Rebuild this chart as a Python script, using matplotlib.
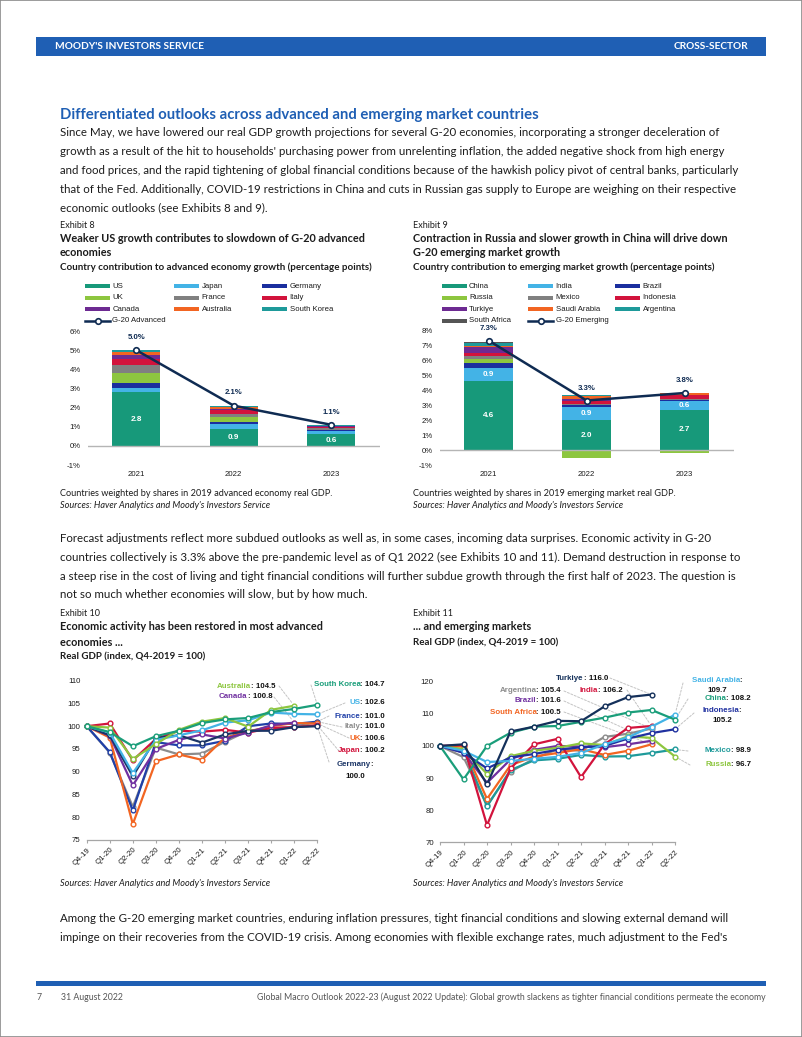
import matplotlib
matplotlib.use('Agg')
import matplotlib.pyplot as plt
from matplotlib.patches import Rectangle
from matplotlib.lines import Line2D
import numpy as np

# ---------------- data ----------------
years = ['2021', '2022', '2023']

adv_names = ['US', 'Japan', 'Germany', 'UK', 'France', 'Italy', 'Canada', 'Australia', 'South Korea']
adv_us = [2.8, 0.9, 0.6]
adv_japan = [0.22, 0.25, 0.2]
adv_germany = [0.26, 0.1, 0.03]
adv_uk = [0.5, 0.25, 0.0]
adv_france = [0.42, 0.15, 0.08]
adv_italy = [0.35, 0.2, 0.1]
adv_canada = [0.2, 0.1, 0.02]
adv_australia = [0.15, 0.1, 0.03]
adv_korea = [0.1, 0.05, 0.05]
adv_g20 = [5.0, 2.1, 1.1]

em_names = ['China', 'India', 'Brazil', 'Russia', 'Mexico', 'Indonesia', 'Turkiye',
            'Saudi Arabia', 'Argentina', 'South Africa']
em_china = [4.6, 2.0, 2.7]
em_india = [0.9, 0.9, 0.6]
em_brazil = [0.3, 0.1, 0.05]
em_russia = [0.3, -0.5, -0.2]
em_mexico = [0.2, 0.1, 0.05]
em_indonesia = [0.15, 0.2, 0.25]
em_turkiye = [0.4, 0.1, 0.03]
em_saudi = [0.1, 0.2, 0.1]
em_argentina = [0.2, 0.05, 0.02]
em_safrica = [0.05, 0.05, 0.0]
em_g20 = [7.3, 3.3, 3.8]

quarters = ['Q4-19', 'Q1-20', 'Q2-20', 'Q3-20', 'Q4-20', 'Q1-21', 'Q2-21',
            'Q3-21', 'Q4-21', 'Q1-22', 'Q2-22']

gdp_italy = [100, 94.2, 82.3, 95.3, 93.8, 94.0, 96.6, 99.0, 99.6, 99.8, 101.0]
gdp_france = [100, 94.3, 81.5, 96.5, 95.8, 95.8, 96.8, 100.0, 100.6, 100.5, 101.0]
gdp_uk = [100, 97.5, 78.5, 92.3, 93.8, 92.6, 97.5, 98.8, 100.0, 100.7, 100.6]
gdp_japan = [100, 100.6, 92.5, 97.2, 99.0, 98.8, 99.2, 98.6, 99.6, 99.8, 100.2]
gdp_canada = [100, 97.9, 87.0, 95.0, 97.0, 98.2, 97.3, 98.6, 100.2, 100.8]
gdp_germany = [100, 98.0, 89.0, 97.4, 98.0, 96.4, 98.2, 99.0, 99.0, 99.8, 100.0]
gdp_us = [100, 98.6, 89.7, 97.0, 98.0, 99.1, 100.8, 101.3, 103.0, 102.7, 102.6]
gdp_australia = [100, 99.7, 92.8, 96.1, 99.2, 101.0, 101.8, 99.9, 103.6, 104.5]
gdp_korea = [100, 98.7, 95.6, 97.8, 99.0, 100.7, 101.5, 101.8, 103.1, 103.8, 104.7]

gdp_argentina = [100, 96.5, 81.5, 92.0, 96.0, 99.0, 98.5, 102.8, 103.8, 105.4]
gdp_mexico = [100, 98.8, 81.2, 92.5, 95.5, 96.0, 97.2, 96.7, 96.8, 97.8, 98.9]
gdp_safrica = [100, 99.8, 83.5, 94.0, 96.7, 97.8, 99.0, 97.2, 98.5, 100.5]
gdp_brazil = [100, 97.9, 88.5, 95.8, 98.8, 100.0, 99.8, 99.6, 100.5, 101.6]
gdp_india = [100, 100.3, 75.3, 93.0, 100.5, 102.2, 90.3, 100.5, 105.6, 106.2]
gdp_russia = [100, 99.0, 91.3, 96.8, 98.5, 99.4, 100.8, 100.3, 103.0, 102.5, 96.7]
gdp_indonesia = [100, 97.9, 93.0, 96.4, 97.5, 98.8, 99.6, 100.0, 102.3, 104.0, 105.2]
gdp_saudi = [100, 98.5, 95.0, 95.3, 96.0, 96.6, 97.8, 100.5, 102.7, 106.0, 109.7]
gdp_china = [100, 89.6, 100.0, 104.1, 106.0, 106.2, 107.5, 108.8, 110.4, 111.2, 108.2]
gdp_turkiye = [100, 100.5, 88.0, 104.5, 106.0, 107.8, 107.7, 112.3, 115.2, 116.0]

# ---------------- style ----------------
TEAL_G = '#17997a'
LBLUE = '#43b3e6'
DBLUE = '#1a2e9e'
LGREEN = '#8dc63f'
GRAY = '#808080'
CRIMSON = '#d2133c'
PURPLE = '#6d2a92'
ORANGE = '#f26522'
TEAL = '#1e9a9a'
DGRAY = '#555555'
NAVY = '#0f2b52'
RBLUE = '#2040a8'
HBLUE = '#1f5fb4'
TXT = '#1c1c1c'

plt.rcParams['font.family'] = ['Liberation Sans', 'DejaVu Sans']
CS = 5.6  # chart font size
BODY = ['Lato', 'DejaVu Sans']

W, H = 802, 1037
fig = plt.figure(figsize=(W / 100, H / 100), dpi=100)
renderer = fig.canvas.get_renderer()


def fx(x):
    return x / W


def fy(y):
    return 1 - y / H


def ptext(x, y, s, size, ha='left', va='center', **kw):
    return fig.text(fx(x), fy(y), s, fontsize=size, ha=ha, va=va, **kw)


def wid(t):
    return t.get_window_extent(renderer).width


def fit_size(s, target, **kw):
    t = fig.text(0, 0, s, fontsize=10, **kw)
    w = wid(t)
    t.remove()
    return 10 * target / w


# page border
fig.add_artist(Rectangle((0, 0), 1, 1, transform=fig.transFigure, fill=False,
                         ec='#8a8a8a', lw=1.2))

# header
fig.add_artist(Rectangle((fx(36), fy(56)), (766 - 36) / W, 19 / H, transform=fig.transFigure,
                         color=HBLUE, lw=0))
s = fit_size("MOODY'S INVESTORS SERVICE", 149, family=BODY, weight='bold')
ptext(55, 46.5, "MOODY'S INVESTORS SERVICE", s, color='white', family=BODY, weight='bold')
ptext(748, 46.5, 'CROSS-SECTOR', s, ha='right', color='white', family=BODY, weight='bold')

# footer
fig.add_artist(Rectangle((fx(36), fy(986)), (766 - 36) / W, 5 / H, transform=fig.transFigure,
                         color=HBLUE, lw=0))
foot = 'Global Macro Outlook 2022-23 (August 2022 Update): Global growth slackens as tighter financial conditions permeate the economy'
fs = fit_size(foot, 510, family=BODY)
ptext(766, 997, foot, fs, ha='right', color='#555555', family=BODY)
ptext(37, 997, '7', fs, color='#555555', family=BODY)
ptext(61, 997, '31 August 2022', fs, color='#555555', family=BODY)

# heading + paragraph 1
hs = fit_size('Differentiated outlooks across advanced and emerging market countries', 479,
              family=BODY, weight='bold')
ptext(60, 115, 'Differentiated outlooks across advanced and emerging market countries', hs,
      color=HBLUE, family=BODY, weight='bold')
para1 = [
    'Since May, we have lowered our real GDP growth projections for several G-20 economies, incorporating a stronger deceleration of',
    "growth as a result of the hit to households' purchasing power from unrelenting inflation, the added negative shock from high energy",
    'and food prices, and the rapid tightening of global financial conditions because of the hawkish policy pivot of central banks, particularly',
    'that of the Fed. Additionally, COVID-19 restrictions in China and cuts in Russian gas supply to Europe are weighing on their respective',
    'economic outlooks (see Exhibits 8 and 9).',
]
bs = fit_size(para1[2], 682, family=BODY)
for i, line in enumerate(para1):
    ptext(60, 133 + i * 18.8, line, bs, color=TXT, family=BODY)

para2 = [
    'Forecast adjustments reflect more subdued outlooks as well as, in some cases, incoming data surprises. Economic activity in G-20',
    'countries collectively is 3.3% above the pre-pandemic level as of Q1 2022 (see Exhibits 10 and 11). Demand destruction in response to',
    'a steep rise in the cost of living and tight financial conditions will further subdue growth through the first half of 2023. The question is',
    'not so much whether economies will slow, but by how much.',
]
for i, line in enumerate(para2):
    ptext(60, 539 + i * 18.6, line, bs, color=TXT, family=BODY)

para3 = [
    'Among the G-20 emerging market countries, enduring inflation pressures, tight financial conditions and slowing external demand will',
    "impinge on their recoveries from the COVID-19 crisis. Among economies with flexible exchange rates, much adjustment to the Fed's",
]
for i, line in enumerate(para3):
    ptext(60, 919 + i * 18.8, line, bs, color=TXT, family=BODY)

# exhibit titles
es = fit_size('Exhibit 8', 35, family=BODY)
ts = fit_size('Weaker US growth contributes to slowdown of G-20 advanced', 306, family=BODY, weight='bold')
ss = fit_size('Country contribution to advanced economy growth (percentage points)', 310, family=BODY, weight='bold')
ns = fit_size('Countries weighted by shares in 2019 advanced economy real GDP.', 272, family=BODY)


def exhibit(x, y0, num, titles, sub, ysub):
    ptext(x, y0, 'Exhibit %d' % num, es, color=TXT, family=BODY)
    for i, tl in enumerate(titles):
        ptext(x, y0 + 13 + i * 15, tl, ts, color=TXT, family=BODY, weight='bold')
    ptext(x, ysub, sub, ss, color=TXT, family=BODY, weight='bold')


exhibit(60, 225, 8, ['Weaker US growth contributes to slowdown of G-20 advanced', 'economies'],
        'Country contribution to advanced economy growth (percentage points)', 267)
exhibit(413, 225, 9, ['Contraction in Russia and slower growth in China will drive down',
                      'G-20 emerging market growth'],
        'Country contribution to emerging market growth (percentage points)', 267)
exhibit(60, 614, 10, ['Economic activity has been restored in most advanced', 'economies ...'],
        'Real GDP (index, Q4-2019 = 100)', 657)
exhibit(413, 614, 11, ['... and emerging markets'], 'Real GDP (index, Q4-2019 = 100)', 643)

src = "Sources: Haver Analytics and Moody's Investors Service"
ptext(60, 493, 'Countries weighted by shares in 2019 advanced economy real GDP.', ns, color=TXT, family=BODY)
ptext(60, 505, src, ns, color=TXT, family=BODY, style='italic')
ptext(413, 493, 'Countries weighted by shares in 2019 emerging market real GDP.', ns, color=TXT, family=BODY)
ptext(413, 505, src, ns, color=TXT, family=BODY, style='italic')
ptext(60, 883, src, ns, color=TXT, family=BODY, style='italic')
ptext(413, 883, src, ns, color=TXT, family=BODY, style='italic')


# ---------------- legends ----------------
def legend(items, cols_x, rows_y, line_item=None):
    for k, (name, col) in enumerate(items):
        r, c = divmod(k, 3)
        px, py = cols_x[c], rows_y[r]
        fig.add_artist(Rectangle((fx(px), fy(py + 2)), 25 / W, 4 / H,
                                 transform=fig.transFigure, color=col, lw=0))
        ptext(px + 27.5, py, name, CS, color=TXT)
    if line_item is not None:
        name, k = line_item
        r, c = divmod(k, 3)
        px, py = cols_x[c], rows_y[r]
        fig.add_artist(Line2D([fx(px), fx(px + 25)], [fy(py), fy(py)], transform=fig.transFigure,
                              color=NAVY, lw=1.8))
        fig.add_artist(Line2D([fx(px + 12.5)], [fy(py)], transform=fig.transFigure, marker='o',
                              ms=4, mfc='white', mec=NAVY, mew=1.2, color=NAVY))
        ptext(px + 27.5, py, name, CS, color=TXT)


adv_cols = [TEAL_G, LBLUE, DBLUE, LGREEN, GRAY, CRIMSON, PURPLE, ORANGE, TEAL]
em_cols = [TEAL_G, LBLUE, DBLUE, LGREEN, GRAY, CRIMSON, PURPLE, ORANGE, TEAL, DGRAY]
rows = [286, 297.7, 309.3, 321]
legend(list(zip(adv_names, adv_cols)), [85, 174, 262], rows, ('G-20 Advanced', 9))
legend(list(zip(em_names, em_cols)), [441.5, 528, 615], rows, ('G-20 Emerging', 10))


# ---------------- bar charts ----------------
def bar_chart(rect, series, cols, total, ylim, label_series, lab_off):
    ax = fig.add_axes(rect)
    x = np.arange(len(years))
    pos = np.zeros(len(years))
    neg = np.zeros(len(years))
    for vals, col in zip(series, cols):
        v = np.array(vals, dtype=float)
        b = np.where(v >= 0, pos, neg)
        ax.bar(x, v, 0.49, bottom=b, color=col, lw=0, zorder=2)
        pos += np.where(v >= 0, v, 0)
        neg += np.where(v < 0, v, 0)
    cum = np.zeros(len(years))
    for j, vals in enumerate(series):
        v = np.array(vals, dtype=float)
        if j in label_series:
            for i in range(len(years)):
                ax.text(x[i], cum[i] + v[i] / 2, '%.1f' % v[i], ha='center', va='center',
                        color='white', fontsize=CS + 0.3, fontweight='bold', zorder=4)
        cum += np.where(v >= 0, v, 0)
    ax.axhline(0, color='#b5b5b5', lw=1.0, zorder=3)
    ax.plot(x, total, color=NAVY, lw=1.8, marker='o', ms=4, mfc='white', mec=NAVY, mew=1.2, zorder=5)
    for i, v in enumerate(total):
        ax.annotate('%.1f%%' % v, (x[i], v), xytext=(0, lab_off), textcoords='offset points',
                    ha='center', va='center', fontsize=CS, fontweight='bold', color=NAVY)
    ax.set_xlim(-0.5, 2.5)
    ax.set_ylim(*ylim)
    ax.set_yticks(range(ylim[0], ylim[1] + 1))
    ax.set_yticklabels(['%d%%' % t for t in range(ylim[0], ylim[1] + 1)])
    ax.set_xticks(x)
    ax.set_xticklabels(years)
    ax.tick_params(length=0, labelsize=CS, colors=TXT)
    ax.tick_params(axis='y', pad=5)
    ax.tick_params(axis='x', pad=4)
    for sp in ax.spines.values():
        sp.set_visible(False)
    ax.patch.set_alpha(0)
    return ax


adv_series = [adv_us, adv_japan, adv_germany, adv_uk, adv_france, adv_italy, adv_canada,
              adv_australia, adv_korea]
em_series = [em_china, em_india, em_brazil, em_russia, em_mexico, em_indonesia, em_turkiye,
             em_saudi, em_argentina, em_safrica]

bar_chart([fx(87.5), fy(465), (380 - 87.5) / W, (465 - 331) / H], adv_series, adv_cols, adv_g20,
          (-1, 6), [0], 9.2)
bar_chart([fx(439.5), fy(465), (733.5 - 439.5) / W, (465 - 330) / H], em_series, em_cols, em_g20,
          (-1, 8), [0, 1], 8.8)


# ---------------- line charts ----------------
def line_chart(rect, series, ylim, yticks):
    ax = fig.add_axes(rect)
    for vals, col in series:
        ax.plot(range(len(vals)), vals, color=col, lw=1.6, marker='o', ms=3.4, mfc='white',
                mec=col, mew=1.0, zorder=3, clip_on=False)
    ax.set_xlim(0, 10)
    ax.set_ylim(*ylim)
    ax.set_yticks(yticks)
    ax.set_xticks(range(len(quarters)))
    ax.set_xticklabels(quarters, rotation=45, ha='right', va='top', rotation_mode='anchor')
    ax.tick_params(axis='y', length=0, labelsize=CS, colors=TXT, pad=4.5)
    ax.tick_params(axis='x', length=2.5, color='#a6a6a6', width=0.8, labelsize=CS, colors=TXT, pad=2)
    ax.tick_params(axis='x', colors='#a6a6a6', labelcolor=TXT)
    for k, sp in ax.spines.items():
        sp.set_visible(k == 'bottom')
    ax.spines['bottom'].set_color('#a6a6a6')
    ax.spines['bottom'].set_linewidth(0.9)
    ax.patch.set_alpha(0)
    return ax


ax10 = line_chart([fx(86.7), fy(840), (317.3 - 86.7) / W, (840 - 680.7) / H],
                  [(gdp_italy, '#8c8c8c'), (gdp_france, RBLUE), (gdp_uk, ORANGE),
                   (gdp_japan, CRIMSON), (gdp_canada, '#7030a0'), (gdp_germany, '#1b3566'),
                   (gdp_us, LBLUE), (gdp_australia, LGREEN), (gdp_korea, '#1a9e7a')],
                  (75, 110), range(75, 111, 5))
ax11 = line_chart([fx(440), fy(842.3), (675 - 440) / W, (842.3 - 681.7) / H],
                  [(gdp_argentina, '#8c8c8c'), (gdp_mexico, TEAL), (gdp_safrica, ORANGE),
                   (gdp_brazil, '#7030a0'), (gdp_india, CRIMSON), (gdp_russia, LGREEN),
                   (gdp_indonesia, '#2031a0'), (gdp_saudi, LBLUE), (gdp_china, '#1a9e7a'),
                   (gdp_turkiye, '#14305a')],
                  (70, 120), range(70, 121, 10))

LS = 5.7
BK = '#111111'


def label2(x, y, name, val, color, ha='left'):
    kw = dict(fontweight='bold')
    if ha == 'left':
        t1 = ptext(x, y, name, LS, color=color, **kw)
        ptext(x + wid(t1), y, ': ' + val, LS, color=BK, **kw)
    else:
        t2 = ptext(x, y, ': ' + val, LS, ha='right', color=BK, **kw)
        ptext(x - wid(t2), y, name, LS, ha='right', color=color, **kw)


def label_two_line(xc, y, name, val, color):
    t1 = ptext(0, y, name, LS, color=color, fontweight='bold')
    t2 = ptext(0, y, ':', LS, color=BK, fontweight='bold')
    w1, w2 = wid(t1), wid(t2)
    x0 = xc - (w1 + w2) / 2
    t1.set_x(fx(x0))
    t2.set_x(fx(x0 + w1 - 0.6))
    ptext(xc, y + 11, val, LS, ha='center', color=BK, fontweight='bold')


def leader(ax, xi, v, px, py):
    ax.annotate('', xy=(xi, v), xycoords='data', xytext=(px, H - py), textcoords='figure pixels',
                arrowprops=dict(arrowstyle='-', color='#c4c4c4', lw=0.7, linestyle=(0, (2.2, 1.6)),
                                shrinkA=0, shrinkB=2.5),
                annotation_clip=False, zorder=1)


# chart 10 labels
label2(217, 686, 'Australia', '%.1f' % gdp_australia[-1], LGREEN)
leader(ax10, len(gdp_australia) - 1, gdp_australia[-1], 279, 686)
label2(219, 697, 'Canada', '%.1f' % gdp_canada[-1], '#7030a0')
leader(ax10, len(gdp_canada) - 1, gdp_canada[-1], 274, 697)
right10 = [('South Korea', gdp_korea, '#1a9e7a', 685, 311),
           ('US', gdp_us, LBLUE, 703, 345),
           ('France', gdp_france, RBLUE, 716, 329),
           ('Italy', gdp_italy, '#8c8c8c', 727, 342),
           ('UK', gdp_uk, ORANGE, 738, 349),
           ('Japan', gdp_japan, CRIMSON, 751, 339)]
for name, vals, col, yy, lx in right10:
    label2(385, yy, name, '%.1f' % vals[-1], col, ha='right')
    leader(ax10, len(vals) - 1, vals[-1], lx, yy)
label_two_line(355, 765, 'Germany', '%.1f' % gdp_germany[-1], '#1b3566')
leader(ax10, len(gdp_germany) - 1, gdp_germany[-1], 329, 762)

# chart 11 labels
t = ptext(0, 0, 'Turkiye: 116.0', LS, fontweight='bold')
tw = wid(t)
t.remove()
label2(582 - tw / 2, 678, 'Turkiye', '%.1f' % gdp_turkiye[-1], '#14305a')
leader(ax11, len(gdp_turkiye) - 1, gdp_turkiye[-1], 582 + tw / 2 + 2, 678)
label2(580, 690, 'India', '%.1f' % gdp_india[-1], CRIMSON)
leader(ax11, len(gdp_india) - 1, gdp_india[-1], 627, 690)
for name, vals, col, yy in [('Argentina', gdp_argentina, '#8c8c8c', 691),
                            ('Brazil', gdp_brazil, '#7030a0', 701),
                            ('South Africa', gdp_safrica, ORANGE, 712)]:
    label2(561, yy, name, '%.1f' % vals[-1], col, ha='right')
    leader(ax11, len(vals) - 1, vals[-1], 564, yy)
label_two_line(717, 680, 'Saudi Arabia', '%.1f' % gdp_saudi[-1], LBLUE)
leader(ax11, len(gdp_saudi) - 1, gdp_saudi[-1], 683, 683)
label2(751, 699, 'China', '%.1f' % gdp_china[-1], '#1a9e7a', ha='right')
leader(ax11, len(gdp_china) - 1, gdp_china[-1], 688, 699)
label_two_line(722, 710, 'Indonesia', '%.1f' % gdp_indonesia[-1], '#2031a0')
leader(ax11, len(gdp_indonesia) - 1, gdp_indonesia[-1], 694, 713)
label2(751, 751, 'Mexico', '%.1f' % gdp_mexico[-1], TEAL, ha='right')
leader(ax11, len(gdp_mexico) - 1, gdp_mexico[-1], 688, 751)
label2(751, 765, 'Russia', '%.1f' % gdp_russia[-1], LGREEN, ha='right')
leader(ax11, len(gdp_russia) - 1, gdp_russia[-1], 690, 765)

fig.savefig('out.png', dpi=100, facecolor='white')
